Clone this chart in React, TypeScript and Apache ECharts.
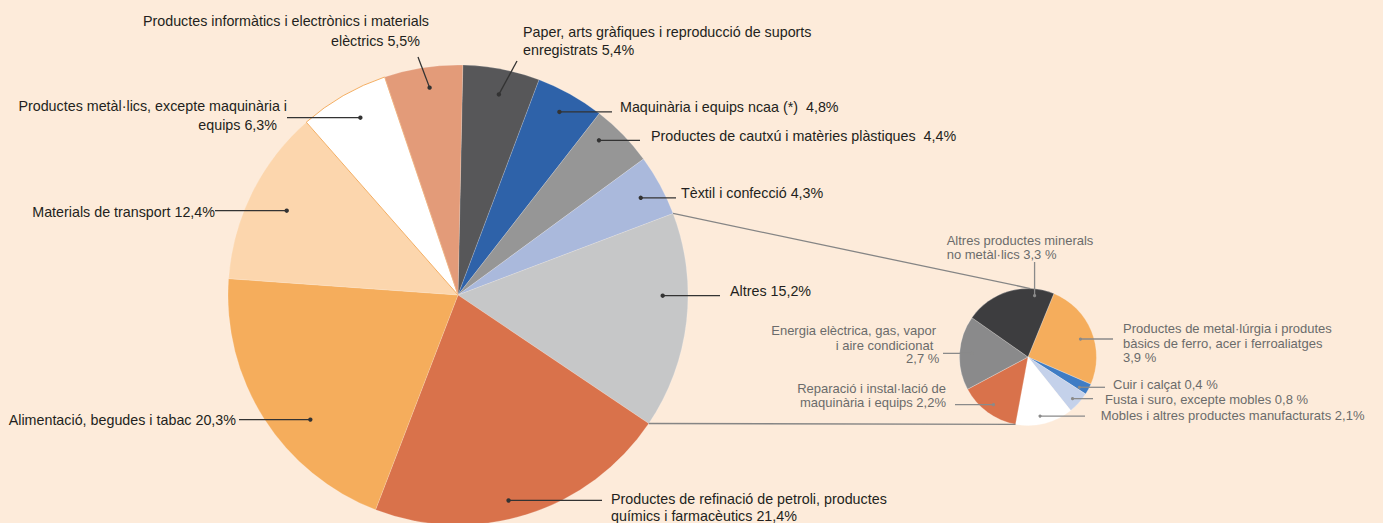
import React, { useEffect, useRef } from "react";
import * as echarts from "echarts";

// ---------- Data ----------
const MAIN_NAMES = [
  "Paper, arts gràfiques i reproducció de suports enregistrats",
  "Maquinària i equips ncaa (*)",
  "Productes de cautxú i matèries plàstiques",
  "Tèxtil i confecció",
  "Altres",
  "Productes de refinació de petroli, productes químics i farmacèutics",
  "Alimentació, begudes i tabac",
  "Materials de transport",
  "Productes metàl·lics, excepte maquinària i equips",
  "Productes informàtics i electrònics i materials elèctrics",
];
const MAIN_VALUES = [5.4, 4.8, 4.4, 4.3, 15.2, 21.4, 20.3, 12.4, 6.3, 5.5];
const MAIN_COLORS = [
  "#575759", "#2e62a9", "#969696", "#aab9dc", "#c6c7c8",
  "#d9724b", "#f5ad5c", "#fcd6ad", "#ffffff", "#e39b79",
];
const MAIN_LABEL_LINES = [
  ["Paper, arts gràfiques i reproducció de suports", "enregistrats {v}%"],
  ["Maquinària i equips ncaa (*)  {v}%"],
  ["Productes de cautxú i matèries plàstiques  {v}%"],
  ["Tèxtil i confecció {v}%"],
  ["Altres {v}%"],
  ["Productes de refinació de petroli, productes", "químics i farmacèutics {v}%"],
  ["Alimentació, begudes i tabac {v}%"],
  ["Materials de transport {v}%"],
  ["Productes metàl·lics, excepte maquinària i", "equips {v}%"],
  ["Productes informàtics i electrònics i materials", "elèctrics {v}%"],
];

const SMALL_NAMES = [
  "Productes de metal·lúrgia i produtes bàsics de ferro, acer i ferroaliatges",
  "Cuir i calçat",
  "Fusta i suro, excepte mobles",
  "Mobles i altres productes manufacturats",
  "Reparació i instal·lació de maquinària i equips",
  "Energia elèctrica, gas, vapor i aire condicionat",
  "Altres productes minerals no metàl·lics",
];
const SMALL_VALUES = [3.9, 0.4, 0.8, 2.1, 2.2, 2.7, 3.3];
const SMALL_COLORS = ["#f5ad5c", "#3f7cc4", "#c4d1ea", "#ffffff", "#d9724b", "#8a8a8b", "#3d3d3f"];
const SMALL_LABEL_LINES = [
  ["Productes de metal·lúrgia i produtes", "bàsics de ferro, acer i ferroaliatges", "{v} %"],
  ["Cuir i calçat {v} %"],
  ["Fusta i suro, excepte mobles {v} %"],
  ["Mobles i altres productes manufacturats {v}%"],
  ["Reparació i instal·lació de", "maquinària i equips {v}%"],
  ["Energia elèctrica, gas, vapor", "i aire condicionat", "{v} %"],
  ["Altres productes minerals", "no metàl·lics {v} %"],
];

// ---------- Layout ----------
const W = 1383;
const H = 523;
const BG = "#fdebda";
const MAIN = { cx: 458, cy: 295, r: 230, start: 88.8 };
const SMALL = { cx: 1028, cy: 357, r: 68.5, start: 67.8 };
const SMALL_TOP_ANGLE = 88;

type Ann = {
  off: number; // dot angle offset from slice mid angle (deg)
  rf: number; // dot radius fraction
  end: [number | null, number | null]; // line end (null => same as dot)
  align: "left" | "right";
  pos: [number, number][]; // text line positions
};

const MAIN_ANN: Ann[] = [
  { off: -0.6, rf: 0.89, end: [517, 61], align: "left", pos: [[523, 31.7], [523, 49.8]] },
  { off: 0.3, rf: 0.91, end: [612, null], align: "left", pos: [[620, 106.7]] },
  { off: 3.5, rf: 0.91, end: [640, null], align: "left", pos: [[651, 136.3]] },
  { off: -0.5, rf: 0.9, end: [676, null], align: "left", pos: [[681, 192.7]] },
  { off: 6.4, rf: 0.89, end: [720, null], align: "left", pos: [[730, 290.8]] },
  { off: -3.7, rf: 0.92, end: [602, null], align: "left", pos: [[611, 498.7], [611, 515.8]] },
  { off: 7.7, rf: 0.84, end: [239, null], align: "right", pos: [[236, 419.7]] },
  { off: 0.2, rf: 0.83, end: [215, null], align: "right", pos: [[215, 211.7]] },
  { off: -1.1, rf: 0.88, end: [287, null], align: "right", pos: [[287, 105.7], [277, 125.3]] },
  { off: -0.9, rf: 0.91, end: [418, 57], align: "right", pos: [[429, 20.8], [420, 40.5]] },
];

const SMALL_ANN: Ann[] = [
  { off: -3.3, rf: 0.81, end: [1113, null], align: "left", pos: [[1123, 328.7], [1123, 343.2], [1123, 357.7]] },
  { off: -2.5, rf: 0.87, end: [1105, null], align: "left", pos: [[1113, 384.7]] },
  { off: -1, rf: 0.89, end: [1093, null], align: "left", pos: [[1105, 399.7]] },
  { off: -2.5, rf: 0.88, end: [1085, null], align: "left", pos: [[1100.7, 415.7]] },
  { off: 0.3, rf: 0.86, end: [955, null], align: "right", pos: [[946, 388], [946, 402.5]] },
  { off: -0.2, rf: 0.82, end: [943, null], align: "right", pos: [[936, 330.7], [933.3, 345.3], [939.3, 358]] },
  { off: -22.5, rf: 0.9, end: [null, 262], align: "left", pos: [[946.7, 240], [946.7, 254.7]] },
];

const fmt = (v: number) => v.toFixed(1).replace(".", ",");

function pt(c: { cx: number; cy: number }, r: number, deg: number) {
  const a = (deg * Math.PI) / 180;
  return [c.cx + r * Math.cos(a), c.cy - r * Math.sin(a)];
}

function boundaryAngle(values: number[], start: number, idx: number) {
  const total = values.reduce((s, v) => s + v, 0);
  let cum = 0;
  for (let i = 0; i < idx; i++) cum += values[i];
  return start - (cum / total) * 360;
}

function midAngle(values: number[], start: number, idx: number) {
  const total = values.reduce((s, v) => s + v, 0);
  let cum = 0;
  for (let i = 0; i < idx; i++) cum += values[i];
  return start - ((cum + values[idx] / 2) / total) * 360;
}

function annotations(
  pie: { cx: number; cy: number; r: number; start: number },
  values: number[],
  lines: string[][],
  anns: Ann[],
  style: { font: number; color: string; lineColor: string; dot: number; lw: number }
) {
  const out: any[] = [];
  values.forEach((v, i) => {
    const a = anns[i];
    const ang = midAngle(values, pie.start, i) + a.off;
    const [dx, dy] = pt(pie, pie.r * a.rf, ang);
    const ex = a.end[0] == null ? dx : a.end[0];
    const ey = a.end[1] == null ? dy : a.end[1];
    out.push({
      type: "line",
      silent: true,
      shape: { x1: dx, y1: dy, x2: ex, y2: ey },
      style: { stroke: style.lineColor, lineWidth: style.lw },
      z: 10,
    });
    out.push({
      type: "circle",
      silent: true,
      shape: { cx: dx, cy: dy, r: style.dot },
      style: { fill: style.lineColor },
      z: 11,
    });
    lines[i].forEach((t, j) => {
      const p = a.pos[j];
      out.push({
        type: "text",
        silent: true,
        x: p[0],
        y: p[1],
        style: {
          text: t.replace("{v}", fmt(v)),
          fill: style.color,
          font: `${style.font}px "Liberation Sans", Arial, sans-serif`,
          textAlign: a.align,
          textVerticalAlign: "middle",
        },
        z: 12,
      });
    });
  });
  return out;
}

export default function App() {
  const ref = useRef<HTMLDivElement>(null);
  useEffect(() => {
    document.body.style.margin = "0";
    document.body.style.background = BG;
    if (!ref.current) return;
    const chart = echarts.init(ref.current, undefined, { renderer: "svg" });

    const mainData = MAIN_VALUES.map((v, i) => ({
      name: MAIN_NAMES[i],
      value: v,
      itemStyle:
        MAIN_COLORS[i] === "#ffffff"
          ? { color: MAIN_COLORS[i], borderColor: "#f4ae62", borderWidth: 1 }
          : { color: MAIN_COLORS[i], borderColor: "rgba(255,255,255,0.35)", borderWidth: 0.5 },
    }));
    const smallData = SMALL_VALUES.map((v, i) => ({
      name: SMALL_NAMES[i],
      value: v,
      itemStyle: { color: SMALL_COLORS[i], borderColor: "rgba(255,255,255,0.5)", borderWidth: 0.5 },
    }));

    // connecting lines between the "Altres" slice and the detail pie
    const aTop = boundaryAngle(MAIN_VALUES, MAIN.start, 4);
    const aBot = boundaryAngle(MAIN_VALUES, MAIN.start, 5);
    const p1 = pt(MAIN, MAIN.r, aTop);
    const p2 = pt(MAIN, MAIN.r, aBot);
    const s1 = pt(SMALL, SMALL.r, SMALL_TOP_ANGLE);
    const s2 = pt(SMALL, SMALL.r, boundaryAngle(SMALL_VALUES, SMALL.start, 4));

    const graphics: any[] = [
      {
        type: "line",
        silent: true,
        shape: { x1: p1[0], y1: p1[1], x2: s1[0], y2: s1[1] },
        style: { stroke: "#858585", lineWidth: 1.3 },
        z: 5,
      },
      {
        type: "line",
        silent: true,
        shape: { x1: p2[0], y1: p2[1], x2: s2[0], y2: s2[1] },
        style: { stroke: "#858585", lineWidth: 1.3 },
        z: 5,
      },
      ...annotations(MAIN, MAIN_VALUES, MAIN_LABEL_LINES, MAIN_ANN, {
        font: 14.3,
        color: "#231f20",
        lineColor: "#333333",
        dot: 2.2,
        lw: 1.3,
      }),
      ...annotations(SMALL, SMALL_VALUES, SMALL_LABEL_LINES, SMALL_ANN, {
        font: 13,
        color: "#6b6b6b",
        lineColor: "#8a8a8a",
        dot: 1.6,
        lw: 1.3,
      }),
    ];

    chart.setOption({
      animation: false,
      backgroundColor: BG,
      series: [
        {
          type: "pie",
          center: [MAIN.cx, MAIN.cy],
          radius: [0, MAIN.r],
          startAngle: MAIN.start,
          clockwise: true,
          silent: true,
          label: { show: false },
          labelLine: { show: false },
          emphasis: { disabled: true },
          data: mainData,
          z: 2,
        },
        {
          type: "pie",
          center: [SMALL.cx, SMALL.cy],
          radius: [0, SMALL.r],
          startAngle: SMALL.start,
          clockwise: true,
          silent: true,
          label: { show: false },
          labelLine: { show: false },
          emphasis: { disabled: true },
          data: smallData,
          z: 2,
        },
      ],
      graphic: graphics,
    });
    return () => chart.dispose();
  }, []);
  return <div ref={ref} style={{ width: W, height: H }} />;
}
